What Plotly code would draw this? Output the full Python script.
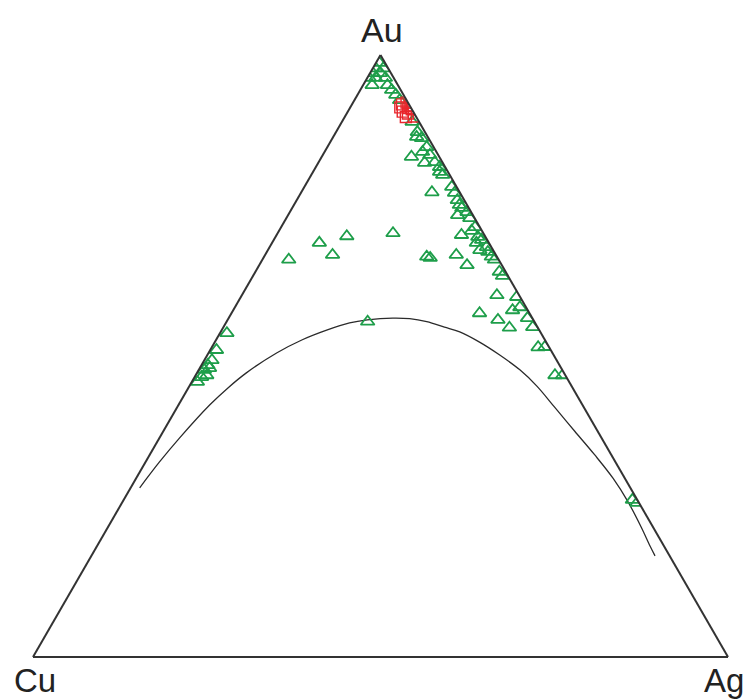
import plotly.graph_objects as go

# Ternary compositions (%), Au / Cu / Ag
green_au = [98.7, 97.8, 97.8, 97.0, 97.0, 96.2, 96.2, 96.2, 95.0, 95.0, 94.2, 93.4, 92.5,
            88.9, 87.2, 86.2, 86.4, 83.1, 83.9, 84.7, 83.4, 82.1, 82.2, 81.4, 80.6, 80.1,
            77.2, 78.1, 77.1, 75.9, 75.1, 74.6, 73.4, 73.9, 72.9, 71.4, 70.1, 70.8, 69.8,
            68.8, 69.3, 68.1, 67.6, 67.3, 66.5, 66.0, 66.5, 66.3, 66.8, 65.1, 64.0, 63.3,
            60.1, 59.8, 58.1, 57.6, 57.1, 56.0, 54.7, 56.3, 54.8, 51.5, 51.5, 46.8, 46.8,
            25.6, 26.1,
            66.0, 68.8, 66.8, 69.9, 70.4, 55.7,
            53.8, 51.0, 49.3, 48.5, 47.7, 46.5, 45.7, 46.8, 48.0]
green_cu = [0.8, 1.8, 0.7, 2.6, 1.5, 3.5, 2.6, 1.2, 3.7, 1.5, 1.3, 1.1, 1.0,
            1.0, 1.1, 1.0, 1.6, 4.0, 2.0, 1.0, 1.2, 2.6, 1.1, 0.8, 1.2, 1.0,
            4.0, 0.7, 0.8, 1.0, 1.1, 1.0, 2.2, 0.6, 0.7, 0.7, 3.3, 1.5, 1.1,
            1.8, 0.8, 0.7, 1.9, 0.9, 0.8, 0.6, 10.1, 9.7, 5.7, 5.0, 0.9, 0.8,
            3.2, 0.5, 0.9, 2.2, 7.2, 5.1, 4.1, 0.7, 0.7, 1.6, 0.6, 1.5, 0.4,
            0.3, 0.7,
            30.2, 24.4, 23.5, 19.9, 13.0, 24.0,
            45.2, 48.1, 49.6, 50.6, 51.5, 52.5, 53.5, 51.6, 50.6]
green_ag = [0.5, 0.4, 1.5, 0.4, 1.5, 0.3, 1.2, 2.6, 1.3, 3.5, 4.5, 5.5, 6.5,
            10.1, 11.7, 12.8, 12.0, 12.9, 14.1, 14.3, 15.4, 15.3, 16.7, 17.8, 18.2, 18.9,
            18.8, 21.2, 22.1, 23.1, 23.8, 24.4, 24.4, 25.5, 26.4, 27.9, 26.6, 27.7, 29.1,
            29.4, 29.9, 31.2, 30.5, 31.8, 32.7, 33.4, 23.4, 24.0, 27.5, 29.9, 35.1, 35.9,
            36.7, 39.7, 41.0, 40.2, 35.7, 38.9, 41.2, 43.0, 44.5, 47.0, 47.9, 51.7, 52.8,
            74.1, 73.2,
            3.8, 6.8, 9.7, 10.2, 16.6, 20.3,
            1.0, 0.9, 1.1, 0.9, 0.8, 1.0, 0.8, 1.6, 1.4]

red_au = [91.8, 92.1, 91.6, 90.6, 90.3, 91.0, 89.8, 89.7, 91.2, 91.3]
red_cu = [1.0, 0.2, 0.0, 1.5, 0.9, 0.0, 0.3, 1.5, 0.4, 1.5]
red_ag = [7.2, 7.7, 8.4, 7.9, 8.8, 9.0, 9.9, 8.8, 8.4, 7.2]

curve_au = [28.1, 32.4, 36.4, 41.9, 44.7, 47.2, 50.5, 52.7, 54.3, 55.5, 56.0, 56.3, 56.2,
            55.7, 54.8, 54.0, 52.3, 50.2, 47.7, 45.0, 41.5, 37.5, 33.6, 29.7, 25.8,
            21.6, 18.4, 16.8]
curve_cu = [70.6, 65.6, 60.7, 53.6, 49.6, 45.7, 39.7, 34.9, 30.6, 26.7, 23.9, 20.1, 17.7,
            15.5, 13.4, 11.6, 9.6, 7.8, 6.1, 5.0, 4.2, 3.3, 2.4, 1.7, 1.5,
            1.7, 2.0, 2.1]
curve_ag = [1.3, 2.0, 2.9, 4.5, 5.7, 7.1, 9.8, 12.4, 15.1, 17.8, 20.1, 23.6, 26.1,
            28.8, 31.8, 34.4, 38.1, 42.0, 46.2, 50.0, 54.3, 59.2, 64.0, 68.6, 72.7,
            76.7, 79.6, 81.1]

vertex_labels = ["Au", "Cu", "Ag"]

fig = go.Figure()

fig.add_trace(go.Scatterternary(
    a=curve_au, b=curve_cu, c=curve_ag, mode="lines",
    line=dict(color="#2b2b2b", width=1.3, shape="spline", smoothing=1.0),
    showlegend=False, hoverinfo="skip"))

fig.add_trace(go.Scatterternary(
    a=green_au, b=green_cu, c=green_ag, mode="markers",
    marker=dict(symbol="triangle-up-open", size=12, color="#1e9e4a",
                line=dict(width=1.8, color="#1e9e4a")),
    showlegend=False))

fig.add_trace(go.Scatterternary(
    a=red_au, b=red_cu, c=red_ag, mode="markers",
    marker=dict(symbol="square-open", size=11, color="#e8262c",
                line=dict(width=1.4, color="#e8262c")),
    showlegend=False))

W, H = 749, 699
axis_style = dict(showticklabels=False, ticks="", showgrid=False,
                  linecolor="#333333", linewidth=2, title=dict(text=""))

fig.update_layout(
    width=W, height=H,
    margin=dict(l=0, r=0, t=0, b=0),
    paper_bgcolor="white",
    showlegend=False,
    ternary=dict(
        sum=100,
        bgcolor="white",
        domain=dict(x=[33 / W, 728 / W], y=[(H - 657) / H, (H - 55) / H]),
        aaxis=axis_style, baxis=axis_style, caxis=axis_style,
    ),
    font=dict(family="Liberation Sans, Arial, sans-serif", color="#222222"),
)

label_pos = [(382, 30, 34), (35, 680, 33), (724, 680, 33)]
for txt, (px, py, fs) in zip(vertex_labels, label_pos):
    fig.add_annotation(text=txt, x=px / W, y=(H - py) / H, xref="paper", yref="paper",
                       showarrow=False, xanchor="center", yanchor="middle",
                       font=dict(size=fs, color="#222222"))

fig.write_html("out.html", config={"displayModeBar": False},
               post_script="document.body.style.margin='0px';")
